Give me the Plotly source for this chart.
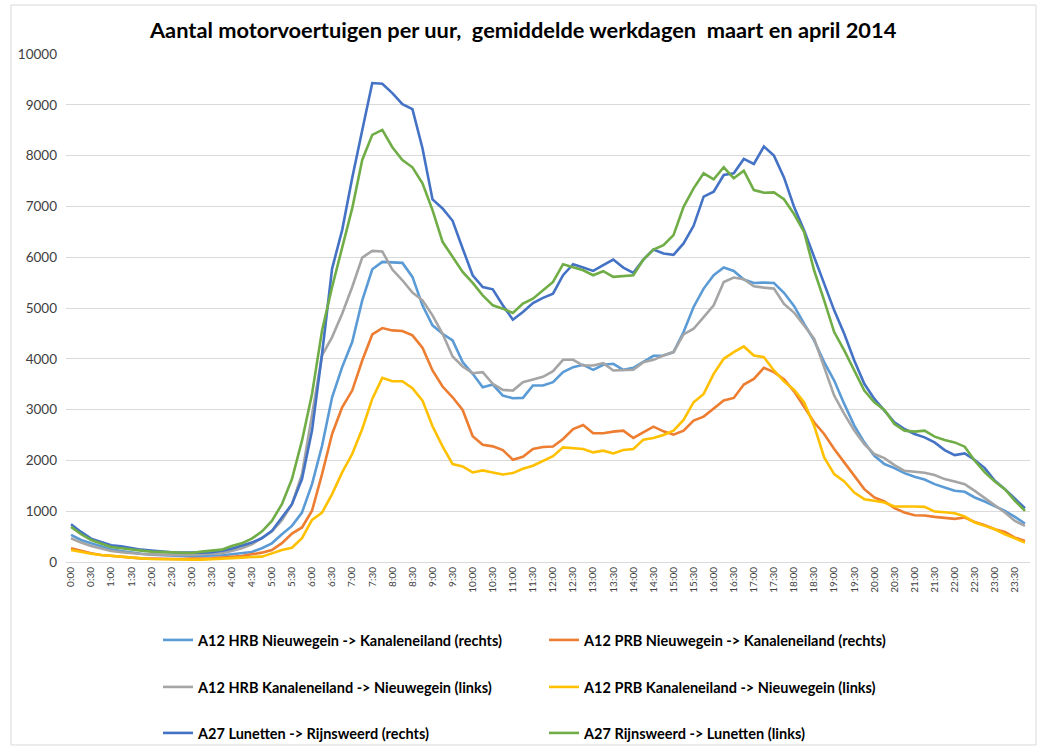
import plotly.graph_objects as go

# ---------------- data ----------------
times = [f"{h}:{m:02d}" for h in range(24) for m in (0, 15, 30, 45)]
tick_labels = [t for t in times if t.endswith(":00") or t.endswith(":30")]

hrb_nw_kan = [533, 434, 368, 303, 250, 217, 184, 164, 145, 132, 125, 118, 112, 118, 118, 132,
              151, 171, 197, 270, 368, 546, 711, 974, 1533, 2289, 3243, 3836, 4329, 5151, 5763, 5908,
              5895, 5888, 5612, 5053, 4658, 4493, 4362, 3934, 3704, 3441, 3493, 3276, 3224, 3230, 3474, 3474,
              3539, 3737, 3836, 3882, 3783, 3882, 3901, 3783, 3822, 3947, 4059, 4066, 4132, 4526, 5020, 5382,
              5645, 5796, 5730, 5559, 5493, 5500, 5493, 5300, 5040, 4691, 4362, 3934, 3572, 3112, 2684, 2355,
              2092, 1928, 1849, 1750, 1678, 1625, 1533, 1467, 1401, 1382, 1270, 1191, 1092, 1007, 888, 757]

prb_nw_kan = [270, 217, 171, 138, 118, 105, 86, 72, 66, 59, 59, 59, 66, 66, 72, 86,
              99, 118, 151, 184, 237, 370, 560, 680, 1010, 1730, 2520, 3046, 3375, 3967, 4480, 4605,
              4559, 4546, 4461, 4217, 3770, 3454, 3243, 2993, 2474, 2309, 2276, 2204, 2013, 2072, 2224, 2264,
              2273, 2421, 2618, 2697, 2533, 2533, 2566, 2586, 2441, 2553, 2664, 2572, 2507, 2586, 2783, 2862,
              3013, 3178, 3230, 3493, 3605, 3822, 3737, 3600, 3360, 3046, 2750, 2520, 2224, 1961, 1697, 1434,
              1270, 1191, 1059, 974, 921, 914, 888, 868, 849, 875, 789, 724, 645, 592, 480, 414]

hrb_kan_nw = [467, 382, 316, 263, 217, 191, 171, 158, 151, 145, 138, 138, 145, 151, 158, 171,
              217, 270, 349, 467, 599, 822, 1138, 1730, 2900, 4066, 4428, 4888, 5414, 5993, 6125, 6112,
              5757, 5546, 5303, 5151, 4855, 4493, 4046, 3849, 3717, 3737, 3507, 3388, 3375, 3539, 3592, 3645,
              3757, 3980, 3980, 3868, 3868, 3914, 3770, 3770, 3783, 3934, 3980, 4066, 4132, 4480, 4592, 4822,
              5053, 5513, 5599, 5566, 5428, 5401, 5382, 5080, 4910, 4658, 4395, 3836, 3276, 2914, 2586, 2322,
              2125, 2046, 1908, 1796, 1783, 1757, 1711, 1632, 1586, 1533, 1401, 1257, 1105, 974, 809, 711]

prb_kan_nw = [237, 197, 164, 138, 118, 99, 86, 72, 59, 53, 46, 46, 46, 46, 53, 59,
              72, 86, 99, 105, 170, 237, 280, 470, 830, 974, 1336, 1763, 2125, 2618, 3211, 3625,
              3559, 3559, 3421, 3178, 2671, 2276, 1928, 1882, 1763, 1803, 1763, 1724, 1750, 1836, 1895, 1985,
              2082, 2257, 2237, 2224, 2158, 2191, 2138, 2204, 2224, 2408, 2441, 2500, 2586, 2796, 3145, 3309,
              3704, 4000, 4132, 4243, 4066, 4033, 3770, 3555, 3390, 3145, 2684, 2059, 1730, 1586, 1368, 1237,
              1204, 1171, 1092, 1099, 1092, 1086, 993, 980, 961, 895, 776, 711, 645, 546, 467, 382]

a27_lun_rijn = [743, 592, 460, 395, 329, 309, 270, 243, 224, 204, 191, 184, 178, 184, 191, 217,
                263, 329, 382, 467, 612, 875, 1138, 1632, 2586, 4099, 5776, 6533, 7560, 8500, 9428, 9414,
                9230, 9013, 8914, 8145, 7138, 6960, 6717, 6171, 5645, 5414, 5368, 5053, 4770, 4921, 5099, 5200,
                5283, 5645, 5862, 5796, 5730, 5842, 5954, 5796, 5691, 5954, 6151, 6072, 6046, 6270, 6618, 7191,
                7289, 7618, 7651, 7934, 7836, 8178, 8000, 7570, 6993, 6533, 6007, 5480, 4954, 4493, 3967, 3507,
                3211, 2980, 2750, 2618, 2520, 2454, 2355, 2204, 2105, 2138, 2007, 1849, 1599, 1434, 1237, 1059]

a27_rijn_lun = [691, 546, 434, 368, 296, 270, 243, 224, 204, 197, 197, 178, 178, 204, 224, 243,
                316, 368, 460, 599, 809, 1138, 1632, 2388, 3309, 4559, 5414, 6204, 6960, 7914, 8408, 8507,
                8164, 7914, 7770, 7454, 6928, 6303, 6007, 5711, 5493, 5250, 5053, 4987, 4901, 5086, 5184, 5349,
                5513, 5862, 5809, 5743, 5645, 5724, 5612, 5625, 5645, 5954, 6151, 6237, 6434, 6993, 7355, 7651,
                7533, 7770, 7553, 7704, 7322, 7270, 7276, 7140, 6850, 6500, 5743, 5151, 4526, 4164, 3770, 3375,
                3145, 2993, 2717, 2586, 2566, 2586, 2467, 2401, 2355, 2270, 1993, 1763, 1586, 1434, 1204, 1007]

series_names = [
    "A12 HRB Nieuwegein -> Kanaleneiland (rechts)",
    "A12 PRB Nieuwegein -> Kanaleneiland (rechts)",
    "A12 HRB Kanaleneiland -> Nieuwegein (links)",
    "A12 PRB Kanaleneiland -> Nieuwegein (links)",
    "A27 Lunetten -> Rijnsweerd (rechts)",
    "A27 Rijnsweerd -> Lunetten (links)",
]
series_values = [hrb_nw_kan, prb_nw_kan, hrb_kan_nw, prb_kan_nw, a27_lun_rijn, a27_rijn_lun]
series_colors = ["#5B9BD5", "#ED7D31", "#A5A5A5", "#FFC000", "#4472C4", "#70AD47"]

title_text = "Aantal motorvoertuigen per uur, \u00a0gemiddelde werkdagen \u00a0maart en april 2014"

# ---------------- layout geometry (pixels) ----------------
W, H = 1040, 747
PL, PR, PT, PB = 66, 1030, 54, 562  # plot area edges


def px_x(px):
    return (px - PL) / (PR - PL)


def px_y(py):
    return (PB - py) / (PB - PT)


FONT = "Lato, 'Open Sans', sans-serif"

fig = go.Figure()
legend_pos = [(158, 640), (544, 640), (158, 687), (544, 687), (158, 733), (544, 733)]
layout_legends = {}
for k, (name, vals, col) in enumerate(zip(series_names, series_values, series_colors)):
    lname = "legend" if k == 0 else f"legend{k + 1}"
    fig.add_trace(go.Scatter(
        x=times, y=vals, mode="lines", name=name,
        line=dict(color=col, width=2.6),
        legend=lname, hoverinfo="x+y+name",
    ))
    lx, ly = legend_pos[k]
    layout_legends[lname] = dict(
        x=px_x(lx), y=px_y(ly), xanchor="left", yanchor="middle",
        bgcolor="rgba(0,0,0,0)", borderwidth=0,
        font=dict(family=FONT, size=14.5, color="#000000", weight="bold"),
        itemwidth=30,
    )

fig.update_layout(
    width=W, height=H,
    margin=dict(l=PL, r=W - PR, t=PT, b=H - PB, autoexpand=False),
    paper_bgcolor="white", plot_bgcolor="white",
    showlegend=True,
    title=dict(
        text=title_text, x=0.503, xref="container", xanchor="center",
        y=1 - 30 / H, yref="container", yanchor="middle",
        font=dict(family=FONT, size=21.8, color="#000000", weight="bold"),
    ),
    xaxis=dict(
        type="category", range=[-0.5, 95.5],
        tickmode="array", tickvals=tick_labels, ticktext=tick_labels,
        tickangle=-90, tickfont=dict(family=FONT, size=10, color="#404040"),
        showgrid=False, showline=True, linecolor="#D9D9D9", linewidth=1,
        ticks="", zeroline=False, fixedrange=True,
    ),
    yaxis=dict(
        range=[0, 10000], dtick=1000, tickformat="d",
        tickfont=dict(family=FONT, size=13.5, color="#404040"),
        showgrid=True, gridcolor="#D9D9D9", gridwidth=1,
        showline=False, zeroline=False, ticks="", ticklabelstandoff=8,
        fixedrange=True,
    ),
    shapes=[dict(
        type="rect", xref="paper", yref="paper",
        x0=px_x(11), x1=px_x(1036), y0=px_y(745), y1=px_y(5),
        line=dict(color="#D9D9D9", width=1), fillcolor="rgba(0,0,0,0)", layer="below",
    )],
    **layout_legends,
)

fig.write_html(
    "out.html",
    config={"displayModeBar": False},
    post_script="document.body.style.margin='0';document.body.style.overflow='hidden';",
)
